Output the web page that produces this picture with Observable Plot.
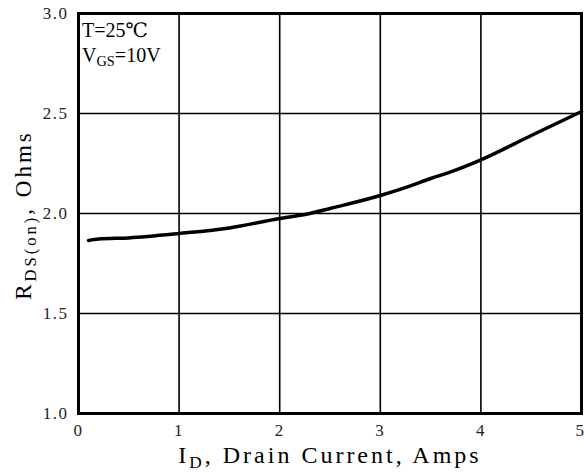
<!DOCTYPE html>
<html><head><meta charset="utf-8">
<script src="https://cdn.jsdelivr.net/npm/d3@7"></script>
<script src="https://cdn.jsdelivr.net/npm/@observablehq/plot@0.6"></script>
<style>body{margin:0;background:#fff}svg{display:block}</style>
</head><body><div id="chart"></div>
<script>
const drainCurrent = [0.1, 0.2, 0.5, 1.0, 1.5, 2.0, 2.3, 2.5, 3.0, 3.3, 3.5, 3.7, 4.0, 4.5, 5.0];
const rdsOn       = [1.865, 1.872, 1.878, 1.900, 1.928, 1.975, 2.000, 2.025, 2.090, 2.138, 2.175, 2.208, 2.268, 2.390, 2.510];
const xTicks = [0, 1, 2, 3, 4, 5];
const yTicks = [1.0, 1.5, 2.0, 2.5, 3.0];
const data = drainCurrent.map((x, i) => ({x, y: rdsOn[i]}));
const font = "'Liberation Serif', 'DejaVu Serif', serif";

const chart = Plot.plot({
  width: 584, height: 473,
  marginLeft: 78, marginRight: 3, marginTop: 13, marginBottom: 60,
  style: {fontFamily: font, fontSize: "17px", color: "#222", background: "#fff"},
  x: {domain: [0, 5], ticks: xTicks, tickSize: 0, tickPadding: 10, label: null, tickFormat: d => String(d)},
  y: {domain: [1, 3], ticks: yTicks, tickSize: 0, tickPadding: 10, label: null, tickFormat: d => d.toFixed(1)},
  marks: [
    Plot.gridX(xTicks, {stroke: "#000", strokeOpacity: 1, strokeWidth: 1.6}),
    Plot.gridY(yTicks, {stroke: "#000", strokeOpacity: 1, strokeWidth: 1.6}),
    Plot.line(data, {x: "x", y: "y", stroke: "#000", strokeWidth: 3.5, curve: "monotone-x"}),
    Plot.frame({stroke: "#000", strokeWidth: 3})
  ]
});
document.getElementById("chart").append(chart);

const svg = d3.select(chart);
svg.selectAll("[aria-label='y-axis tick label'] text, [aria-label='x-axis tick label'] text").attr("letter-spacing", "1.5px");
svg.selectAll("[aria-label='x-axis tick label'] text").filter(function() { return this.textContent === "5"; })
  .attr("text-anchor", "end").attr("dx", "4");

function richText(g, x, y, parts, size, attrs) {
  const t = g.append("text").attr("x", x).attr("y", y)
    .attr("font-family", font).attr("font-size", size).attr("fill", "#000");
  for (const k in attrs) t.attr(k, attrs[k]);
  let shifted = false;
  parts.forEach(([s, sub]) => {
    const ts = t.append("tspan").text(s);
    if (sub && !shifted) { ts.attr("dy", "0.3em").attr("font-size", "0.72em"); shifted = true; }
    else if (!sub && shifted) { ts.attr("dy", "-0.22em"); shifted = false; }
  });
  return t;
}
richText(svg, 330, 463, [["I"], ["D", true], [", Drain Current, Amps"]], 24,
  {"text-anchor": "middle", "letter-spacing": "3px"});
richText(svg.append("g").attr("transform", "translate(31,215) rotate(-90)"), 0, 0,
  [["R"], ["DS(on)", true], [", Ohms"]], 23, {"text-anchor": "middle", "letter-spacing": "3px"});
richText(svg, 82, 37, [["T=25℃"]], 20, {"text-anchor": "start"});
richText(svg, 82, 62, [["V"], ["GS", true], ["=10V"]], 20, {"text-anchor": "start"});
</script></body></html>
